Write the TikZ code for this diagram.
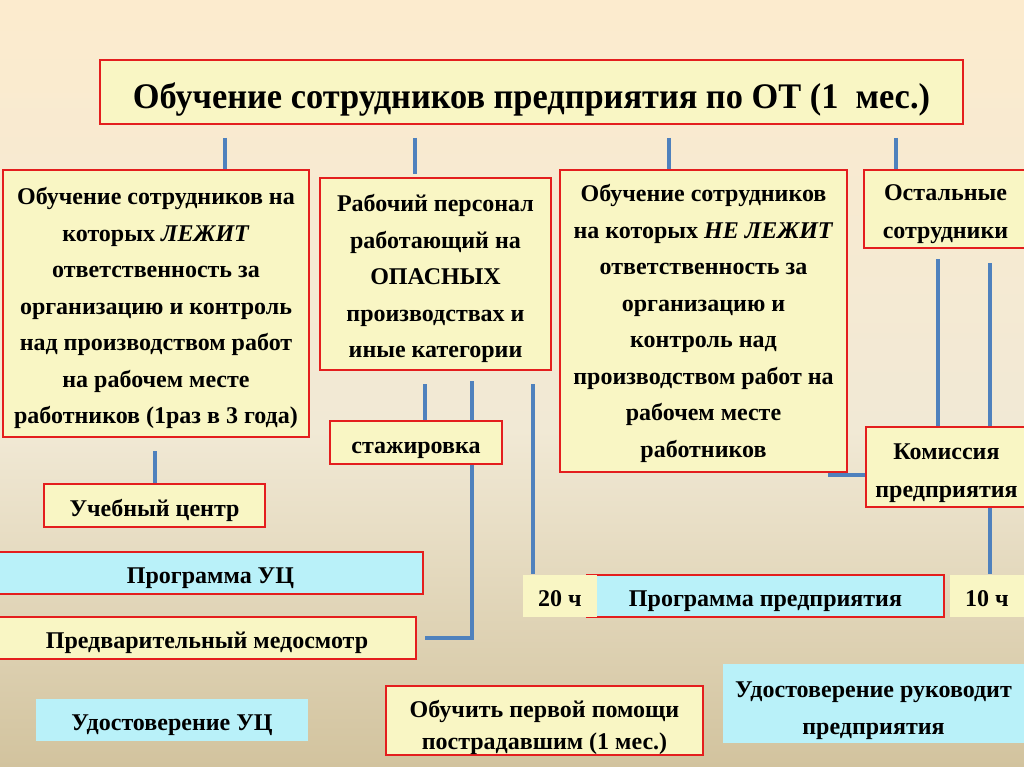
\documentclass[tikz,border=0pt]{standalone}
\usepackage{fontspec}
\setmainfont{Liberation Serif}
\usepackage{graphicx}
\usetikzlibrary{positioning,calc}
\definecolor{bgtop}{RGB}{252,235,206}
\definecolor{bgmid}{RGB}{241,233,213}
\definecolor{bgbot}{RGB}{210,195,158}
\definecolor{boxyellow}{RGB}{249,246,196}
\definecolor{boxcyan}{RGB}{185,241,249}
\definecolor{boxred}{RGB}{228,30,30}
\definecolor{linkblue}{RGB}{79,129,189}
\newcommand{\firstln}{\rule{0pt}{27pt}}
\begin{document}
\begin{tikzpicture}[x=1pt,y=-1pt,
    box/.style={rectangle, draw=boxred, line width=2pt, fill=boxyellow, align=center, inner sep=0pt, font=\bfseries\fontsize{24}{36.5}\selectfont},
    cbox/.style={box, fill=boxcyan},
    plainbox/.style={box, draw=none},
    onebox/.style={text height=31, text depth=11},
    link/.style={draw=linkblue, line width=4pt}
]
    \useasboundingbox (0,0) rectangle (1024,767);
    \shade[top color=bgtop, bottom color=bgmid] (0,0) rectangle (1024,430);
    \shade[top color=bgmid, bottom color=bgbot] (0,430) rectangle (1024,767);

    \node[box, minimum width=863, minimum height=64, text height=49, text depth=15, font=\bfseries\fontsize{36}{40}\selectfont] (title) at (531.5,92) {\scalebox{0.955}[1]{Обучение сотрудников предприятия по ОТ (1~~мес.)}};

    \node[box, minimum width=306, minimum height=267] (a) at (156,303.5) {\firstln Обучение сотрудников на\\которых \textit{ЛЕЖИТ}\\ответственность за\\организацию и контроль\\над производством работ\\на рабочем месте\\работников (1раз в 3 года)};
    \node[box, minimum width=231, minimum height=192] (b) at (435.5,274) {\firstln Рабочий персонал\\работающий на\\ОПАСНЫХ\\производствах и\\иные категории};
    \node[box, minimum width=287, minimum height=302] (c) at (703.5,321) {\rule{0pt}{22pt}Обучение сотрудников\\на которых \textit{НЕ ЛЕЖИТ}\\ответственность за\\организацию и\\контроль над\\производством работ на\\рабочем месте\\работников};
    \node[box, minimum width=163, minimum height=78, font=\bfseries\fontsize{24}{38}\selectfont] (d) at (945.5,209) {\firstln Остальные\\сотрудники};

    \node[box, onebox, minimum width=172, minimum height=43, text height=32] (staj) at (416,442.5) {стажировка};
    \node[box, onebox, minimum width=221, minimum height=43, text height=32] (uc) at (154.5,505.5) {Учебный центр};
    \node[box, minimum width=161, minimum height=80, font=\bfseries\fontsize{24}{38}\selectfont] (kom) at (946.5,467) {\rule{0pt}{29pt}Комиссия\\предприятия};

    \node[cbox, onebox, minimum width=425, minimum height=42] (progUC) at (210.5,573) {Программа УЦ};
    \node[box, onebox, minimum width=418, minimum height=42] (medo) at (207,638) {Предварительный медосмотр};
    \node[cbox, onebox, minimum width=357, minimum height=42] (progP) at (765.5,596) {Программа предприятия};
    \node[plainbox, onebox, minimum width=74, minimum height=42] (h20) at (560,596) {20 ч};
    \node[plainbox, onebox, minimum width=74, minimum height=42] (h10) at (987,596) {10 ч};

    \node[cbox, onebox, draw=none, minimum width=272, minimum height=42] (udUC) at (172,720) {Удостоверение УЦ};
    \node[box, minimum width=317, minimum height=69, font=\bfseries\fontsize{24}{32}\selectfont] (aid) at (544.5,720.5) {\rule{0pt}{31pt}Обучить первой помощи\\пострадавшим (1 мес.)};
    \node[cbox, draw=none, minimum width=301, minimum height=79, font=\bfseries\fontsize{24}{37}\selectfont] (udRuk) at (873.5,703.5) {\rule{0pt}{30pt}Удостоверение руководит\\предприятия};

    \coordinate (ta) at ([xshift=69pt]a.north);
    \coordinate (tb) at ([xshift=-21pt,yshift=3pt]b.north);
    \coordinate (tc) at ([xshift=-35pt]c.north);
    \coordinate (td) at ([xshift=-50pt]d.north);
    \foreach \t in {ta,tb,tc,td}
        \draw[link] (title.south -| \t) ++(0,13) -- (\t);

    \draw[link] (a.south -| uc.north) ++(0,13) -- (uc.north);

    \coordinate (sa) at ([xshift=9pt]staj.north);
    \coordinate (sb) at ([xshift=56pt]staj.north);
    \coordinate (hb) at ([xshift=-27pt]h20.north);
    \draw[link] (b.south -| sa) ++(0,13) -- (sa);
    \draw[link] (b.south -| sb) ++(0,10) -- (sb);
    \draw[link] (b.south -| hb) ++(0,13) -- (hb);
    \draw[link] (staj.south -| sb) |- ([xshift=8pt]medo.east);

    \coordinate (ck) at ([xshift=-20pt,yshift=-2pt]c.south east);
    \draw[link] (ck) -- (ck -| kom.west);

    \coordinate (da) at ([xshift=-9pt]kom.north);
    \coordinate (db) at ([xshift=43pt]kom.north);
    \draw[link] (d.south -| da) ++(0,10) -- (da);
    \draw[link] (d.south -| db) ++(0,14) -- (db);
    \draw[link] (kom.south -| db) -- (h10.north -| db);
\end{tikzpicture}
\end{document}
